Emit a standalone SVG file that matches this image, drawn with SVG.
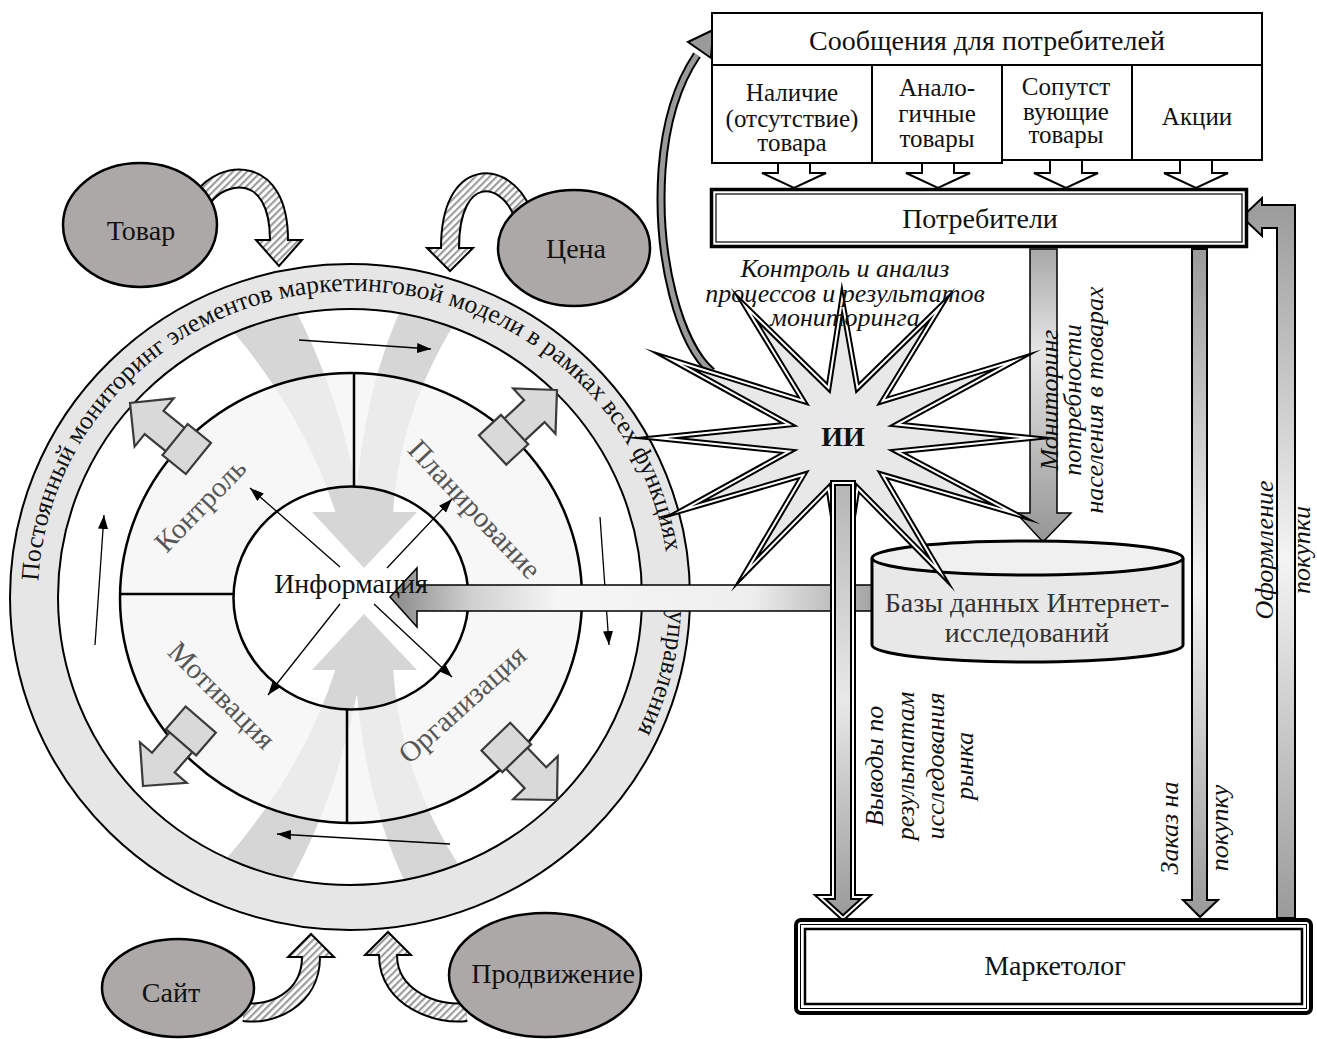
<svg xmlns="http://www.w3.org/2000/svg" width="1317" height="1039" viewBox="0 0 1317 1039">
<defs>
<style>
text{font-family:"Liberation Serif","Times New Roman",serif;fill:#111}
.m{font-size:28px}
.s{font-size:25px}
.it{font-style:italic;font-size:26px}
.ell{fill:#aca8a8;stroke:#000;stroke-width:2.5}
.box{fill:#fff;stroke:#000;stroke-width:2}
.thin{stroke:#000;stroke-width:1.3;fill:none;marker-end:url(#ah)}
.blk{fill:#d9d9d9;stroke:#3a3a3a;stroke-width:2.2}
.lbl{font-size:29px;fill:#555}
.div{stroke:#000;stroke-width:2.5}
.big{fill:#d6d6d6}
.bandK{fill:none;stroke:#000;stroke-width:20}
.bandH{fill:none;stroke:url(#hatch);stroke-width:16}
.head{fill:url(#hatch);stroke:#000;stroke-width:2;stroke-linejoin:miter}
</style>
<marker id="ah" markerUnits="userSpaceOnUse" markerWidth="14" markerHeight="10" refX="14" refY="5" orient="auto"><path d="M0,0 L14,5 L0,10 z" fill="#000"/></marker>
<pattern id="hatch" width="5" height="5" patternUnits="userSpaceOnUse" patternTransform="rotate(45)"><rect width="5" height="5" fill="#fff"/><rect width="2.2" height="5" fill="#9c9c9c"/></pattern>
<linearGradient id="gV" x1="0" y1="0" x2="0" y2="1"><stop offset="0" stop-color="#9a9a9a"/><stop offset="0.5" stop-color="#f4f4f4"/><stop offset="1" stop-color="#9a9a9a"/></linearGradient>
<linearGradient id="gMon" x1="0" y1="0" x2="0" y2="1"><stop offset="0" stop-color="#a8a8a8"/><stop offset="0.35" stop-color="#e6e6e6"/><stop offset="1" stop-color="#959595"/></linearGradient>
<linearGradient id="gVy" x1="0" y1="0" x2="0" y2="1"><stop offset="0" stop-color="#b5b5b5"/><stop offset="0.5" stop-color="#e8e8e8"/><stop offset="1" stop-color="#999"/></linearGradient>
<linearGradient id="gH" x1="0" y1="0" x2="1" y2="0"><stop offset="0" stop-color="#888"/><stop offset="0.17" stop-color="#d0d0d0"/><stop offset="0.35" stop-color="#f6f6f6"/><stop offset="0.75" stop-color="#eee"/><stop offset="1" stop-color="#a4a4a4"/></linearGradient>
<g id="barrow"><polygon class="blk" points="0,0 -31,-31 -31,-15 -72,-15 -72,15 -31,15 -31,31"/><rect class="blk" x="-88" y="-20" width="30" height="40"/></g>
</defs>
<rect width="1317" height="1039" fill="#fff"/>

<!-- central wheel -->
<g id="wheel">
<g id="big-arrows">
<g id="big-top">
<path class="big" d="M 205 300 L 290 300 Q 340 390 362 514 L 336 514 Q 300 400 205 300 Z"/>
<path class="big" d="M 405 300 L 470 300 Q 400 400 393 514 L 355 514 Q 362 390 405 300 Z"/>
<path class="big" d="M 312 512 L 417 512 L 364 568 Z"/>
</g>
<g transform="translate(0,1182) scale(1,-1)">
<path class="big" d="M 205 300 L 290 300 Q 340 390 362 514 L 336 514 Q 300 400 205 300 Z"/>
<path class="big" d="M 405 300 L 470 300 Q 400 400 393 514 L 355 514 Q 362 390 405 300 Z"/>
<path class="big" d="M 312 512 L 417 512 L 364 568 Z"/>
</g>
</g>
<path d="M 120 598 A 231 225 0 1 0 582 598 A 231 225 0 1 0 120 598 Z M 233.5 598 A 117.5 111.5 0 1 0 468.5 598 A 117.5 111.5 0 1 0 233.5 598 Z" fill="#f3f3f3" fill-opacity="0.7" fill-rule="evenodd"/>
<path id="band" d="M 10 597 A 340 333 0 1 0 690 597 A 340 333 0 1 0 10 597 Z M 58 597 A 292 288 0 1 0 642 597 A 292 288 0 1 0 58 597 Z" fill="#e6e6e6" fill-rule="evenodd" stroke="#000" stroke-width="2"/>
<ellipse cx="351" cy="598" rx="231" ry="225" fill="none" stroke="#000" stroke-width="2.5"/>
<ellipse cx="351" cy="598" rx="117.5" ry="111.5" fill="none" stroke="#000" stroke-width="2.5"/>
<line class="div" x1="354" y1="373" x2="354" y2="487"/>
<line class="div" x1="120" y1="594" x2="234" y2="594"/>
<line class="div" x1="347" y1="709" x2="347" y2="823"/>
<line class="div" x1="468" y1="604" x2="582" y2="604"/>
<path id="ringpath" d="M 38.4 581 A 314 306 0 0 1 424 299 A 314 306 0 0 1 597 793" fill="none"/>
<text font-size="25.6"><textPath href="#ringpath">Постоянный мониторинг элементов маркетинговой модели в рамках всех функциях <tspan dx="52">управления</tspan></textPath></text>
<text class="lbl" text-anchor="middle" transform="translate(200,505) rotate(-46) translate(0,10)">Контроль</text>
<text class="lbl" text-anchor="middle" transform="translate(475,509) rotate(46.7) translate(0,10)">Планирование</text>
<text class="lbl" text-anchor="middle" transform="translate(222,695) rotate(45) translate(0,10)">Мотивация</text>
<text class="lbl" text-anchor="middle" transform="translate(462,704) rotate(-42) translate(0,10)">Организация</text>
<use href="#barrow" transform="translate(557,390) rotate(-43)"/>
<use href="#barrow" transform="translate(130,403) rotate(-141)"/>
<use href="#barrow" transform="translate(143,786) rotate(131)"/>
<use href="#barrow" transform="translate(557,800) rotate(46)"/>
<line class="thin" x1="299" y1="340" x2="431" y2="349"/>
<line class="thin" x1="600" y1="517" x2="609" y2="645"/>
<line class="thin" x1="450" y1="844" x2="277" y2="834"/>
<line class="thin" x1="95" y1="645" x2="104" y2="515"/>
<line class="thin" x1="340" y1="567" x2="250" y2="488"/>
<line class="thin" x1="387" y1="568" x2="452" y2="499"/>
<line class="thin" x1="340" y1="604" x2="268" y2="695"/>
<line class="thin" x1="374" y1="604" x2="452" y2="677"/>
</g>

<!-- connectors -->
<g id="connectors">
<path d="M 390 597 L 417 568 L 417 585 L 873 585 L 873 611 L 417 611 L 417 627 Z" fill="url(#gH)" stroke="#000" stroke-width="1.5"/>
<g id="c-tovar">
<path class="bandK" d="M 203 198 C 222 170, 279 163, 279 240"/>
<polygon class="head" points="256,240 302,240 279,266"/>
<path class="bandH" d="M 203 198 C 222 170, 279 163, 279 240 L 279 243"/>
</g>
<g id="c-cena">
<path class="bandK" d="M 522 212 C 505 170, 450 165, 450 248"/>
<polygon class="head" points="427,248 473,248 450,271"/>
<path class="bandH" d="M 522 212 C 505 170, 450 165, 450 248 L 450 251"/>
</g>
<g id="c-sait">
<path class="bandK" d="M 244 1012 C 270 1016, 311 1000, 311 957"/>
<polygon class="head" points="288,957 334,957 311,934"/>
<path class="bandH" d="M 244 1012 C 270 1016, 311 1000, 311 957 L 311 954"/>
</g>
<g id="c-prod">
<path class="bandK" d="M 466 1012 C 440 1016, 388 1000, 388 955"/>
<polygon class="head" points="365,955 411,955 388,932"/>
<path class="bandH" d="M 466 1012 C 440 1016, 388 1000, 388 955 L 388 952"/>
</g>
<g id="c-star-msg">
<path d="M 712 372 C 680 345, 656 260, 662 170 C 666 115, 680 80, 697 55" fill="none" stroke="#000" stroke-width="9"/>
<path d="M 712 372 C 680 345, 656 260, 662 170 C 666 115, 680 80, 697 55" fill="none" stroke="#9a9a9a" stroke-width="5"/>
<polygon points="713,30 711,58 688,42" fill="#9a9a9a" stroke="#000" stroke-width="2"/>
</g>
<g id="c-msg-cons" fill="#fff" stroke="#000" stroke-width="2">
<polygon points="778,163 810,163 810,173 826,173 794,188 762,173 778,173"/>
<polygon points="922,163 954,163 954,173 970,173 938,188 906,173 922,173"/>
<polygon points="1050,160 1082,160 1082,173 1098,173 1066,188 1034,173 1050,173"/>
<polygon points="1180,160 1212,160 1212,173 1228,173 1196,188 1164,173 1180,173"/>
</g>
<polygon id="c-monitor" points="1030,249 1057,249 1057,513 1071,513 1043,542 1016,513 1030,513" fill="url(#gMon)" stroke="#000" stroke-width="1.5"/>
<polygon id="c-order" points="1192,249 1207,249 1207,900 1218,900 1200,917 1183,900 1192,900" fill="url(#gV)" stroke="#000" stroke-width="2"/>
<polygon id="c-purchase" points="1277,918 1277,228 1262,228 1262,236 1242,217 1262,198 1262,205 1295,205 1295,918" fill="url(#gV)" stroke="#000" stroke-width="2"/>
</g>

<!-- nodes -->
<g id="n-tovar"><ellipse class="ell" cx="140" cy="225" rx="77" ry="62"/><text class="m" x="141" y="240" text-anchor="middle">Товар</text></g>
<g id="n-cena"><ellipse class="ell" cx="574" cy="248" rx="76" ry="58"/><text class="m" x="576" y="258" text-anchor="middle">Цена</text></g>
<g id="n-sait"><ellipse class="ell" cx="178" cy="988" rx="76" ry="49"/><text class="m" x="171" y="1002" text-anchor="middle">Сайт</text></g>
<g id="n-prod"><ellipse class="ell" cx="545" cy="975" rx="96" ry="62"/><text class="m" x="553" y="983" text-anchor="middle">Продвижение</text></g>
<g id="n-info"><text class="m" x="351" y="593" text-anchor="middle">Информация</text></g>

<g id="n-db">
<path d="M 872 558 L 872 645 A 155.5 17 0 0 0 1183 645 L 1183 558" fill="#e8e8e8" stroke="#000" stroke-width="3"/>
<ellipse cx="1027.5" cy="558" rx="155.5" ry="17" fill="#f0f0f0" stroke="#000" stroke-width="3"/>
<text class="m" x="1027" y="612" text-anchor="middle" style="fill:#333">Базы данных Интернет-</text>
<text class="m" x="1027" y="642" text-anchor="middle" style="fill:#333">исследований</text>
</g>

<g id="n-star">
<path d="M 842 300 L 857.5 388 L 940 307 L 882.6 401 L 1014 361 L 897 424.5 L 1030 438 L 897 451.5 L 1013 513 L 882.6 474.8 L 940 572 L 857.5 488 L 843 582 L 828.5 488 L 746 572 L 803.4 474.8 L 683 510 L 789 451.5 L 657 438 L 789 424.5 L 672 360 L 803.4 401 L 746 307 L 828.5 388 Z" fill="#e8e8e8" stroke="#000" stroke-width="6" stroke-linejoin="miter" stroke-miterlimit="20"/>
<path d="M 842 300 L 857.5 388 L 940 307 L 882.6 401 L 1014 361 L 897 424.5 L 1030 438 L 897 451.5 L 1013 513 L 882.6 474.8 L 940 572 L 857.5 488 L 843 582 L 828.5 488 L 746 572 L 803.4 474.8 L 683 510 L 789 451.5 L 657 438 L 789 424.5 L 672 360 L 803.4 401 L 746 307 L 828.5 388 Z" fill="none" stroke="#fff" stroke-width="2" stroke-linejoin="miter" stroke-miterlimit="20"/>
<text x="843" y="446" text-anchor="middle" font-size="28" font-weight="bold">ИИ</text>
<text class="it" x="845" y="277" text-anchor="middle">Контроль и анализ</text>
<text class="it" x="845" y="302" text-anchor="middle">процессов и результатов</text>
<text class="it" x="845" y="326" text-anchor="middle">мониторинга</text>
</g>

<g id="c-conclusions">
<polygon points="833,483 853,483 853,897 866,897 843,918 820,897 833,897" fill="url(#gVy)" stroke="#000" stroke-width="6"/>
<polygon points="833,483 853,483 853,897 866,897 843,918 820,897 833,897" fill="none" stroke="#fff" stroke-width="2"/>
</g>

<g id="n-msg">
<rect class="box" x="712" y="13" width="550" height="52"/>
<text class="m" x="987" y="50" text-anchor="middle">Сообщения для потребителей</text>
</g>
<g id="n-avail"><rect class="box" x="712" y="65" width="160" height="98"/>
<text class="s" text-anchor="middle"><tspan x="792" y="101">Наличие</tspan><tspan x="792" y="127">(отсутствие)</tspan><tspan x="792" y="151">товара</tspan></text></g>
<g id="n-analog"><rect class="box" x="872" y="65" width="130" height="98"/>
<text class="s" text-anchor="middle"><tspan x="937" y="96">Анало-</tspan><tspan x="937" y="122">гичные</tspan><tspan x="937" y="147">товары</tspan></text></g>
<g id="n-related"><rect class="box" x="1002" y="65" width="130" height="95"/>
<text class="s" text-anchor="middle"><tspan x="1066" y="95">Сопутст</tspan><tspan x="1066" y="120">вующие</tspan><tspan x="1066" y="143">товары</tspan></text></g>
<g id="n-promo"><rect class="box" x="1132" y="65" width="130" height="95"/>
<text class="s" x="1197" y="125" text-anchor="middle">Акции</text></g>

<g id="n-consumers">
<rect x="711.5" y="189.5" width="535" height="57" fill="#fff" stroke="#000" stroke-width="3.5"/>
<rect x="716" y="194" width="526" height="48" fill="none" stroke="#000" stroke-width="1.2"/>
<text class="m" x="980" y="228" text-anchor="middle">Потребители</text>
</g>

<g id="n-marketer">
<rect x="796" y="920" width="515" height="93" rx="5" fill="#fff" stroke="#000" stroke-width="4"/>
<rect x="800.5" y="924.5" width="506" height="84" fill="none" stroke="#000" stroke-width="1"/>
<rect x="805" y="929" width="497" height="75" fill="none" stroke="#000" stroke-width="2.5"/>
<text class="m" x="1055" y="975" text-anchor="middle">Маркетолог</text>
</g>

<g id="labels">
<text class="it" text-anchor="middle" transform="translate(0,400) rotate(-90)"><tspan x="0" y="1058">Мониторинг</tspan><tspan x="0" y="1081">потребности</tspan><tspan x="0" y="1103">населения в товарах</tspan></text>
<text class="it" text-anchor="middle" transform="translate(0,766) rotate(-90)"><tspan x="0" y="883">Выводы по</tspan><tspan x="0" y="914">результатам</tspan><tspan x="0" y="944">исследования</tspan><tspan x="0" y="973">рынка</tspan></text>
<text class="it" text-anchor="middle" transform="translate(0,828) rotate(-90)"><tspan x="0" y="1178">Заказ на</tspan><tspan x="0" y="1228">покупку</tspan></text>
<text class="it" text-anchor="middle" transform="translate(0,550) rotate(-90)"><tspan x="0" y="1273">Оформление</tspan><tspan x="0" y="1310">покупки</tspan></text>
</g>
</svg>
